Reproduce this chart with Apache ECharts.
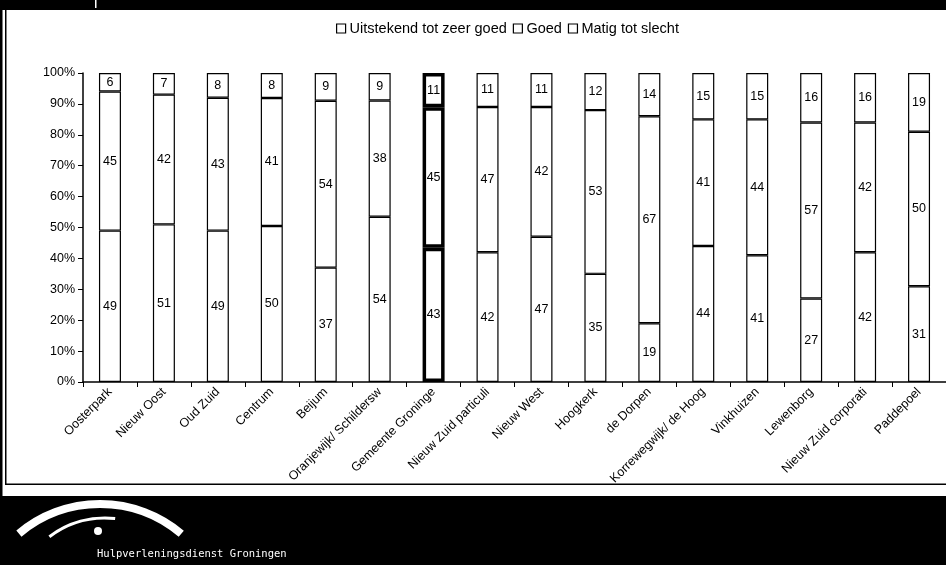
<!DOCTYPE html>
<html>
<head>
<meta charset="utf-8">
<script src="https://cdn.jsdelivr.net/npm/echarts@6/dist/echarts.min.js"></script>
<style>
html,body{margin:0;padding:0;background:#fff;}
#chart{width:946px;height:565px;}
</style>
</head>
<body>
<div id="chart"></div>
<script>
const categories = ["Oosterpark","Nieuw Oost","Oud Zuid","Centrum","Beijum","Oranjewijk/ Schildersw","Gemeente Groninge","Nieuw Zuid particuli","Nieuw West","Hoogkerk","de Dorpen","Korrewegwijk/ de Hoog","Vinkhuizen","Lewenborg","Nieuw Zuid corporati","Paddepoel"];
const uitstekend = [49,51,49,50,37,54,43,42,47,35,19,44,41,27,42,31];
const goed       = [45,42,43,41,54,38,45,47,42,53,67,41,44,57,42,50];
const matig      = [6,7,8,8,9,9,11,11,11,12,14,15,15,16,16,19];
const seriesNames = ["Uitstekend tot zeer goed","Goed","Matig tot slecht"];
const yTicks = [0,10,20,30,40,50,60,70,80,90,100];
const highlightIndex = 6;

const raw = [uitstekend, goed, matig];
const totals = categories.map((c,i)=>uitstekend[i]+goed[i]+matig[i]);
const FONT = "'Liberation Sans', Arial, sans-serif";

const chart = echarts.init(document.getElementById('chart'), null, {renderer:'canvas'});

const series = raw.map((arr, si) => ({
  name: seriesNames[si],
  type: 'bar',
  stack: 'total',
  barWidth: 22,
  itemStyle: {color:'#fff', borderColor:'#000', borderWidth:1.2},
  label: {
    show: true, position: 'inside', color:'#000', fontSize: 12.5, fontFamily: FONT,
    formatter: p => String(raw[p.seriesIndex][p.dataIndex])
  },
  emphasis: {disabled: true},
  data: arr.map((v,i) => {
    const d = {value: v / totals[i] * 100};
    if (i === highlightIndex) d.itemStyle = {borderWidth: 3.5};
    return d;
  })
}));

const W = 946, H = 565;
const graphics = [
  {type:'rect', shape:{x:0,y:0,width:W,height:10}, style:{fill:'#000'}},
  {type:'rect', shape:{x:95,y:0,width:1.5,height:8}, style:{fill:'#fff'}},
  {type:'rect', shape:{x:0,y:0,width:2.5,height:496}, style:{fill:'#000'}},
  {type:'rect', shape:{x:5,y:10,width:1.5,height:475}, style:{fill:'#000'}},
  {type:'rect', shape:{x:5,y:483.5,width:W,height:1.5}, style:{fill:'#000'}},
  {type:'rect', shape:{x:0,y:496,width:W,height:H-496}, style:{fill:'#000'}},
  {type:'arc', shape:{cx:100, cy:630, r:126, startAngle:-2.27, endAngle:-0.87, clockwise:true}, style:{stroke:'#fff', lineWidth:8, fill:null}},
  {type:'arc', shape:{cx:105, cy:610, r:92, startAngle:-2.22, endAngle:-1.46, clockwise:true}, style:{stroke:'#fff', lineWidth:3, fill:null}},
  {type:'circle', shape:{cx:98, cy:531, r:4}, style:{fill:'#fff'}},
  {type:'text', x:97, y:549, style:{text:'Hulpverleningsdienst Groningen', fill:'#fff', font:"10.5px 'DejaVu Sans Mono', monospace"}}
];

chart.setOption({
  animation: false,
  backgroundColor: '#fff',
  textStyle: {fontFamily: FONT},
  legend: {
    top: 16, left: 331,
    icon: 'rect', itemWidth: 9, itemHeight: 9, itemGap: 6,
    itemStyle: {borderWidth: 1.2},
    textStyle: {fontSize: 14.5, color:'#000', fontFamily: FONT, padding:[0,0,0,-1]},
    data: seriesNames
  },
  grid: {left: 83, top: 73, width: 875, height: 309, containLabel: false},
  xAxis: {
    type: 'category',
    data: categories,
    axisLine: {lineStyle:{color:'#000', width:1.5}},
    axisTick: {show:true, length:5, lineStyle:{color:'#000'}},
    axisLabel: {rotate: 45, interval: 0, fontSize: 12.5, color:'#000', fontFamily: FONT, margin: 8}
  },
  yAxis: {
    type: 'value', min: yTicks[0], max: yTicks[yTicks.length-1], interval: yTicks[1]-yTicks[0],
    axisLine: {show:true, lineStyle:{color:'#000', width:1.5}},
    axisTick: {show:true, length:5, lineStyle:{color:'#000'}},
    splitLine: {show:false},
    axisLabel: {formatter: '{value}%', fontSize: 12.5, color:'#000', fontFamily: FONT, margin: 8}
  },
  series: series,
  graphic: graphics
});
</script>
</body>
</html>
